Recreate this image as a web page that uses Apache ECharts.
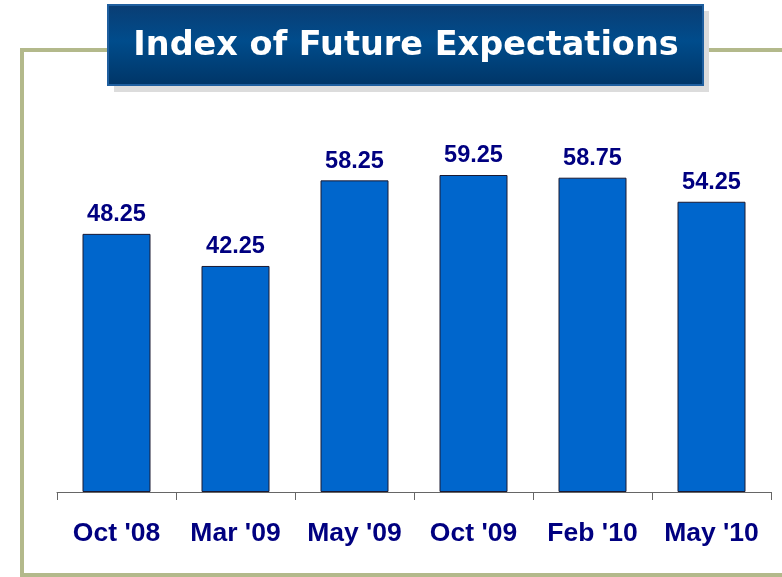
<!DOCTYPE html>
<html>
<head>
<meta charset="utf-8">
<script src="https://cdn.jsdelivr.net/npm/echarts@6/dist/echarts.min.js"></script>
<style>
  html, body { margin: 0; padding: 0; background: #fff; }
  #chart { width: 782px; height: 577px; }
</style>
</head>
<body>
<div id="chart"></div>
<script>
var categories = ["Oct '08", "Mar '09", "May '09", "Oct '09", "Feb '10", "May '10"];
var values = [48.25, 42.25, 58.25, 59.25, 58.75, 54.25];
var titleText = 'Index of Future Expectations';

var myChart = echarts.init(document.getElementById('chart'));

var option = {
    animation: false,
    grid: {
        left: 57,
        right: 11,
        top: 64,
        bottom: 85
    },
    xAxis: {
        type: 'category',
        data: categories,
        axisLine: { lineStyle: { color: '#666666', width: 1 } },
        axisTick: { show: true, interval: 0, length: 8, lineStyle: { color: '#666666' } },
        axisLabel: {
            interval: 0,
            margin: 28,
            color: '#000080',
            fontFamily: 'Liberation Sans',
            fontWeight: 'bold',
            fontSize: 26.5
        }
    },
    yAxis: {
        type: 'value',
        min: 0,
        max: 80,
        show: false,
        splitLine: { show: false }
    },
    // 外框和标题
    graphic: [
        {
            type: 'rect',
            z: 1,
            shape: { x: 22, y: 50, width: 800, height: 525 },
            style: { fill: 'none', stroke: '#b3b98b', lineWidth: 4 }
        },
        {
            type: 'rect',
            z: 2,
            shape: { x: 114, y: 11, width: 595, height: 81 },
            style: { fill: '#dcdcdc' }
        },
        {
            type: 'rect',
            z: 3,
            shape: { x: 108, y: 5, width: 595, height: 80 },
            style: {
                fill: new echarts.graphic.LinearGradient(0, 0, 0, 1, [
                    { offset: 0, color: '#0a3d73' },
                    { offset: 0.45, color: '#004c8c' },
                    { offset: 1, color: '#003566' }
                ]),
                stroke: '#1f5f9f',
                lineWidth: 2
            }
        },
        {
            type: 'text',
            z: 4,
            x: 406,
            y: 46,
            style: {
                text: titleText,
                fill: '#ffffff',
                font: 'bold 33.5px "DejaVu Sans"',
                align: 'center',
                verticalAlign: 'middle',
                textShadowColor: '#000000',
                textShadowOffsetX: 2,
                textShadowOffsetY: 2,
                textShadowBlur: 0
            }
        }
    ],
    series: [
        {
            type: 'bar',
            data: values,
            barWidth: 68,
            itemStyle: {
                color: '#0066cc',
                borderColor: '#1a1a33',
                borderWidth: 1
            },
            label: {
                show: true,
                position: 'top',
                distance: 7,
                color: '#000080',
                fontFamily: 'Liberation Sans',
                fontWeight: 'bold',
                fontSize: 23.5
            }
        }
    ]
};

myChart.setOption(option);
window.addEventListener('resize', function () { myChart.resize(); });
</script>
</body>
</html>
